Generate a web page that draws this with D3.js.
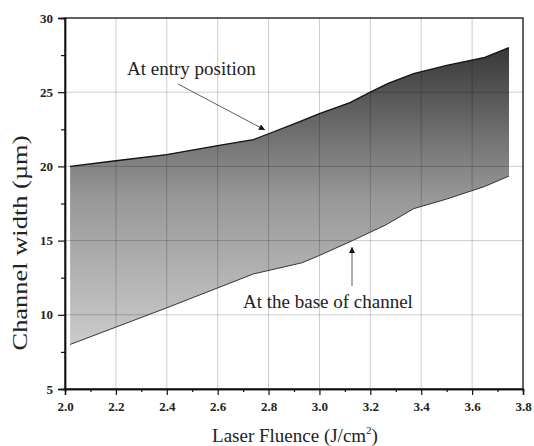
<!DOCTYPE html>
<html>
<head>
<meta charset="utf-8">
<script src="https://cdn.jsdelivr.net/npm/d3@7"></script>
<style>
  body { margin: 0; background: #fff; }
  svg text { font-family: "Liberation Serif", "Times New Roman", serif; }
</style>
</head>
<body>
<div id="chart"></div>
<script>
// values
const fluenceTop = [2.02, 2.2, 2.4, 2.6, 2.74, 2.8, 2.92, 3.0, 3.12, 3.2, 3.27, 3.37, 3.5, 3.65, 3.745];
const widthEntry = [20.0, 20.38, 20.8, 21.4, 21.8, 22.2, 23.0, 23.55, 24.3, 25.0, 25.6, 26.25, 26.8, 27.35, 28.0];
const fluenceBase = [2.02, 2.4, 2.74, 2.93, 3.0, 3.13, 3.26, 3.37, 3.5, 3.65, 3.745];
const widthBase = [8.0, 10.47, 12.75, 13.5, 14.0, 15.0, 16.05, 17.15, 17.8, 18.65, 19.35];
const xTicks = [2.0, 2.2, 2.4, 2.6, 2.8, 3.0, 3.2, 3.4, 3.6, 3.8];
const yTicks = [5, 10, 15, 20, 25, 30];

const W = 534, H = 446;
const margin = {top: 18, right: 11, bottom: 57, left: 65};

const svg = d3.select("#chart").append("svg")
    .attr("width", W)
    .attr("height", H);

const x = d3.scaleLinear().domain([2.0, 3.8]).range([margin.left, W - margin.right]);
const y = d3.scaleLinear().domain([5, 30]).range([H - margin.bottom, margin.top]);

// gradient fill, dark at top
const grad = svg.append("defs").append("linearGradient")
    .attr("id", "band")
    .attr("gradientUnits", "userSpaceOnUse")
    .attr("x1", 0).attr("x2", 0)
    .attr("y1", y(28)).attr("y2", y(8));
grad.append("stop").attr("offset", 0).attr("stop-color", "#383838");
grad.append("stop").attr("offset", 0.5).attr("stop-color", "#979797");
grad.append("stop").attr("offset", 1).attr("stop-color", "#cbcbcb");

// build the band: entry line forward, base line back
const upper = fluenceTop.map((f, i) => [f, widthEntry[i]]);
const lower = fluenceBase.map((f, i) => [f, widthBase[i]]);
const line = d3.line().x(d => x(d[0])).y(d => y(d[1]));

svg.append("path")
    .attr("d", line(upper.concat(lower.slice().reverse())) + "Z")
    .attr("fill", "url(#band)");

// grid on top of the band
const grid = svg.append("g").attr("stroke", "rgba(0,0,0,0.2)").attr("stroke-width", 1);
grid.selectAll(".gx")
    .data(xTicks.slice(1, -1))
    .join("line")
    .attr("x1", d => x(d)).attr("x2", d => x(d))
    .attr("y1", y(5)).attr("y2", y(30));
grid.selectAll(".gy")
    .data(yTicks.slice(1, -1))
    .join("line")
    .attr("x1", x(2.0)).attr("x2", x(3.8))
    .attr("y1", d => y(d)).attr("y2", d => y(d));

svg.append("path").attr("d", line(upper))
    .attr("fill", "none").attr("stroke", "#111").attr("stroke-width", 1.3);
svg.append("path").attr("d", line(lower))
    .attr("fill", "none").attr("stroke", "#333").attr("stroke-width", 1);

// frame
svg.append("rect")
    .attr("x", x(2.0)).attr("y", y(30))
    .attr("width", x(3.8) - x(2.0)).attr("height", y(5) - y(30))
    .attr("fill", "none").attr("stroke", "#222").attr("stroke-width", 1.4);

// axes
svg.append("g")
    .attr("transform", `translate(0,${y(5)})`)
    .call(d3.axisBottom(x).tickValues(xTicks).tickFormat(d3.format(".1f")).tickSize(6).tickPadding(7));
svg.append("g")
    .attr("transform", `translate(0,${y(5)})`)
    .call(d3.axisBottom(x).tickValues(d3.range(2.1, 3.8, 0.2)).tickFormat("").tickSize(3));

svg.append("g")
    .attr("transform", `translate(${x(2.0)},0)`)
    .call(d3.axisLeft(y).tickValues(yTicks).tickSize(7).tickPadding(5));
svg.append("g")
    .attr("transform", `translate(${x(2.0)},0)`)
    .call(d3.axisLeft(y).tickValues(d3.range(7.5, 30, 5)).tickFormat("").tickSize(4));

svg.selectAll(".domain").attr("stroke", "#111").attr("stroke-width", 1.4);
svg.selectAll(".tick line").attr("stroke", "#111").attr("stroke-width", 1.2);
svg.selectAll(".tick text")
    .style("font-family", "'Liberation Serif', serif")
    .style("font-weight", "bold")
    .style("font-size", "13px")
    .attr("fill", "#222");

// axis titles
svg.append("text")
    .attr("x", 295)
    .attr("y", 442)
    .attr("text-anchor", "middle")
    .style("font-size", "19px")
    .attr("fill", "#222")
    .html('Laser Fluence (J/cm<tspan dy="-8" font-size="11px">2</tspan><tspan dy="8">)</tspan>');

svg.append("text")
    .attr("transform", "translate(27,243) rotate(-90)")
    .attr("text-anchor", "middle")
    .attr("textLength", 215)
    .attr("lengthAdjust", "spacingAndGlyphs")
    .style("font-size", "20px")
    .attr("fill", "#222")
    .text("Channel width (µm)");

// annotations
const head = svg.select("defs").append("marker")
    .attr("id", "head")
    .attr("viewBox", "0 0 10 10")
    .attr("refX", 10).attr("refY", 5)
    .attr("markerWidth", 8).attr("markerHeight", 6)
    .attr("markerUnits", "userSpaceOnUse")
    .attr("orient", "auto");
head.append("path").attr("d", "M0,0L10,5L0,10Z").attr("fill", "#111");

svg.append("text")
    .attr("x", 127).attr("y", 75)
    .style("font-size", "19px")
    .attr("fill", "#222")
    .text("At entry position");
svg.append("line")
    .attr("x1", 178).attr("y1", 84)
    .attr("x2", 265).attr("y2", 130)
    .attr("stroke", "#333").attr("stroke-width", 0.8)
    .attr("marker-end", "url(#head)");

svg.append("text")
    .attr("x", 243).attr("y", 308)
    .style("font-size", "19px")
    .attr("fill", "#222")
    .text("At the base of channel");
svg.append("line")
    .attr("x1", 352).attr("y1", 286)
    .attr("x2", 352).attr("y2", 247)
    .attr("stroke", "#333").attr("stroke-width", 0.8)
    .attr("marker-end", "url(#head)");
</script>
</body>
</html>
